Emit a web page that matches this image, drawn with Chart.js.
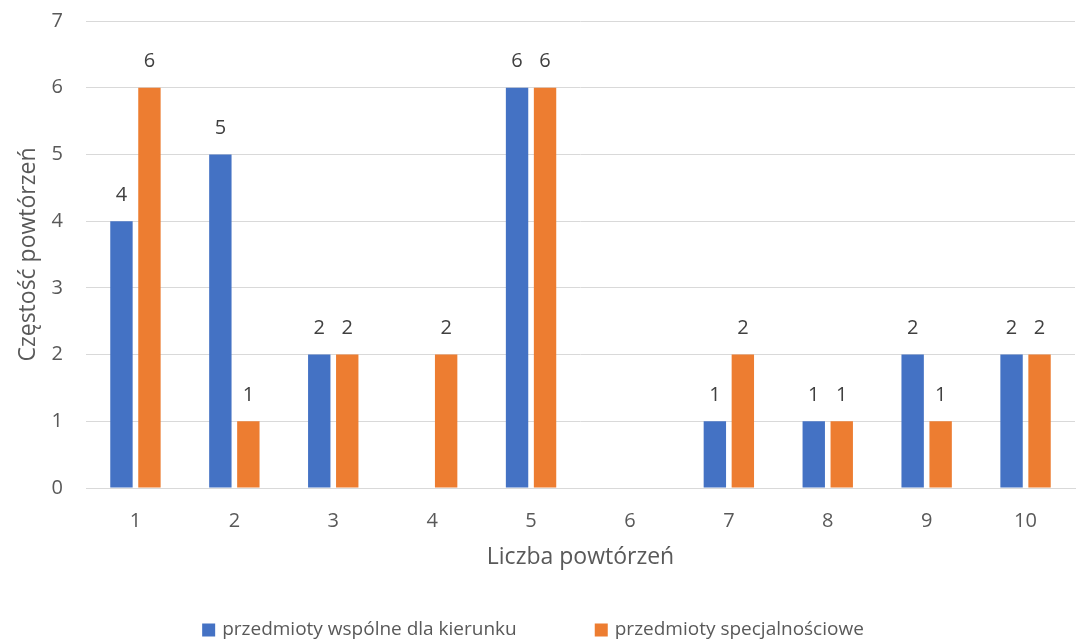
<!DOCTYPE html>
<html lang="pl">
    <head>
        <meta charset="UTF-8">
        <title>Częstość powtórzeń</title>
        <script src="https://cdn.jsdelivr.net/npm/chart.js"></script>
        <style>
            html, body { margin: 0; padding: 0; background: #fff; }
            .chart-container { width: 1092px; height: 640px; position: relative; }
        </style>
    </head>
    <body>
        <div class="chart-container">
            <canvas id="chart"></canvas>
        </div>
        <script>
            // data (null = no bar, no label)
            const categories = ['1', '2', '3', '4', '5', '6', '7', '8', '9', '10'];
            const wspolne = [4, 5, 2, null, 6, null, 1, 1, 2, 2];
            const specjalnosciowe = [6, 1, 2, 2, 6, null, 2, 1, 1, 2];
            const seriesNames = ['przedmioty wspólne dla kierunku', 'przedmioty specjalnościowe'];
            const yTicks = [0, 1, 2, 3, 4, 5, 6, 7];

            const textColor = '#595959';
            const fontFamily = '"Open Sans", "Noto Sans", sans-serif';

            // labels on top of the bars
            const barLabels = {
                id: 'barLabels',
                afterDatasetsDraw(chart) {
                    const ctx = chart.ctx;
                    ctx.save();
                    ctx.font = '20px ' + fontFamily;
                    ctx.fillStyle = '#404040';
                    ctx.textAlign = 'center';
                    ctx.textBaseline = 'middle';
                    chart.data.datasets.forEach((ds, i) => {
                        chart.getDatasetMeta(i).data.forEach((bar, j) => {
                            if (ds.data[j] == null) return;
                            ctx.fillText(ds.data[j], bar.x, bar.y - 26);
                        });
                    });
                    ctx.restore();
                }
            };

            // legend drawn by hand so the spacing can match
            const bottomLegend = {
                id: 'bottomLegend',
                afterDraw(chart) {
                    const ctx = chart.ctx;
                    ctx.save();
                    ctx.font = '19px ' + fontFamily;
                    ctx.textBaseline = 'middle';
                    const box = 13, boxGap = 7, itemGap = 78, y = 630;
                    const items = chart.data.datasets.map(ds => ({
                        text: ds.label, color: ds.backgroundColor, w: ctx.measureText(ds.label).width
                    }));
                    let total = items.reduce((s, it) => s + box + boxGap + it.w, 0) + itemGap * (items.length - 1);
                    let x = 533 - total / 2;
                    items.forEach(it => {
                        ctx.fillStyle = it.color;
                        ctx.fillRect(x, y - box / 2, box, box);
                        ctx.fillStyle = textColor;
                        ctx.fillText(it.text, x + box + boxGap, y);
                        x += box + boxGap + it.w + itemGap;
                    });
                    ctx.restore();
                }
            };

            new Chart(document.getElementById('chart'), {
                type: 'bar',
                data: {
                    labels: categories,
                    datasets: [
                        {
                            label: seriesNames[0],
                            data: wspolne,
                            backgroundColor: '#4472C4',
                            categoryPercentage: 0.566,
                            barPercentage: 0.8
                        },
                        {
                            label: seriesNames[1],
                            data: specjalnosciowe,
                            backgroundColor: '#ED7D31',
                            categoryPercentage: 0.566,
                            barPercentage: 0.8
                        }
                    ]
                },
                options: {
                    responsive: true,
                    maintainAspectRatio: false,
                    animation: false,
                    layout: { padding: { left: 0, right: 17, top: 21, bottom: 69 } },
                    plugins: {
                        legend: { display: false },
                        tooltip: { enabled: false }
                    },
                    scales: {
                        x: {
                            grid: { display: false, drawTicks: false },
                            border: { display: true, color: '#d9d9d9', width: 1 },
                            ticks: { color: textColor, font: { family: fontFamily, size: 20 }, padding: 21 },
                            title: {
                                display: true,
                                text: 'Liczba powtórzeń',
                                color: textColor,
                                font: { family: fontFamily, size: 23 },
                                padding: { top: 0, bottom: 0 }
                            },
                            afterFit(scale) { scale.height = 83; }
                        },
                        y: {
                            min: 0,
                            max: 7,
                            afterBuildTicks(scale) { scale.ticks = yTicks.map(v => ({ value: v })); },
                            grid: { color: '#d9d9d9', drawTicks: false },
                            border: { display: false },
                            ticks: { color: textColor, font: { family: fontFamily, size: 20 }, padding: 23 },
                            title: {
                                display: true,
                                text: 'Częstość powtórzeń',
                                color: textColor,
                                font: { family: fontFamily, size: 23 },
                                padding: { top: 15, bottom: 0 }
                            },
                            afterFit(scale) {
                                scale.width = 86;
                                // tick padding would otherwise push the plot top down
                                scale.paddingTop = 0;
                                scale.paddingBottom = 0;
                            }
                        }
                    }
                },
                plugins: [barLabels, bottomLegend]
            });
        </script>
    </body>
</html>
